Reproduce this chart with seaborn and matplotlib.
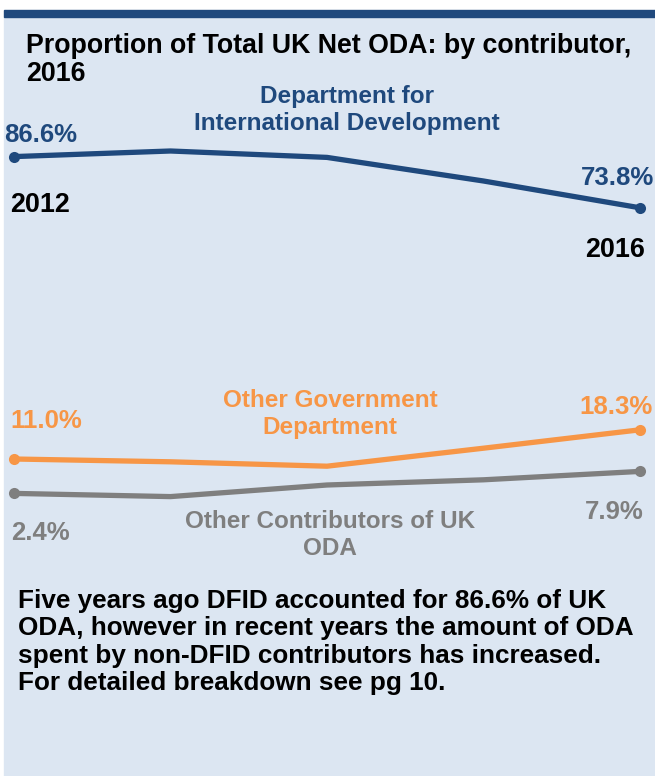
import matplotlib
matplotlib.use("Agg")
import matplotlib.pyplot as plt
import seaborn as sns
import pandas as pd
from matplotlib.patches import Rectangle

# valores (% do ODA liquido total do Reino Unido)
anos = [2012, 2013, 2014, 2015, 2016]
dfid = [86.6, 88.0, 86.4, 80.5, 73.8]
outros_gov = [11.0, 10.3, 9.2, 13.7, 18.3]
outros_contrib = [2.4, 1.6, 4.5, 5.8, 7.9]

nomes = ["Department for\nInternational Development",
         "Other Government\nDepartment",
         "Other Contributors of UK\nODA"]
cores = ["#1f497d", "#f79646", "#7f7f7f"]

dados = pd.DataFrame({
    "ano": anos * 3,
    "valor": dfid + outros_gov + outros_contrib,
    "serie": [nomes[0]] * 5 + [nomes[1]] * 5 + [nomes[2]] * 5,
})

sns.set_theme(style="white")
plt.rcParams["font.family"] = ["Liberation Sans", "DejaVu Sans"]

W, H = 655, 776
fig = plt.figure(figsize=(W / 100, H / 100), dpi=100)
fig.patch.set_facecolor("white")


def px(x, y):
    return x / W, 1 - y / H


# fundo azul claro e barra superior
fig.add_artist(Rectangle(px(4, H), (W - 4) / W, (H - 17) / H,
                         transform=fig.transFigure, color="#dce6f2", zorder=0))
fig.add_artist(Rectangle(px(4, 17), (W - 4) / W, 7 / H,
                         transform=fig.transFigure, color="#1f497d", zorder=0))

# eixo: 2012 -> x=14px, 2016 -> x=640px ; 0% -> y=503px, 100% -> y=103px
ax = fig.add_axes([14 / W, (H - 503) / H, 626 / W, 400 / H])
ax.set_facecolor("none")
for nome, cor in zip(nomes, cores):
    sub = dados[dados["serie"] == nome]
    sns.lineplot(data=sub, x="ano", y="valor", color=cor, linewidth=3.8,
                 marker="o", markersize=8, markeredgewidth=0,
                 markevery=[0, len(sub) - 1], ax=ax, clip_on=False,
                 solid_joinstyle="round", solid_capstyle="round")
ax.set_xlim(anos[0], anos[-1])
ax.set_ylim(0, 100)
ax.axis("off")

# titulo
fig.text(*px(26, 60), "Proportion of Total UK Net ODA: by contributor,\n2016",
         fontsize=19.3, fontweight="bold", color="black", ha="left", va="center",
         linespacing=1.12)

# rotulos das series
serie_kw = dict(fontsize=17.5, fontweight="bold", ha="center", va="center",
                linespacing=1.21)
fig.text(*px(347, 110), nomes[0], color=cores[0], **serie_kw)
fig.text(*px(330, 414), nomes[1], color=cores[1], **serie_kw)
fig.text(*px(330, 535), nomes[2], color=cores[2], **serie_kw)

# valores nas pontas
rot = dict(fontsize=18.5, fontweight="bold", va="center", ha="left")
fig.text(*px(4, 135), f"{dfid[0]:.1f}%", color=cores[0], **rot)
fig.text(*px(581, 178), f"{dfid[-1]:.1f}%", color=cores[0], **rot)
fig.text(*px(10, 421), f"{outros_gov[0]:.1f}%", color=cores[1], **rot)
fig.text(*px(579, 407), f"{outros_gov[-1]:.1f}%", color=cores[1], **rot)
fig.text(*px(11, 533), f"{outros_contrib[0]:.1f}%", color=cores[2], **rot)
fig.text(*px(585, 512), f"{outros_contrib[-1]:.1f}%", color=cores[2], **rot)

# anos
ano_kw = dict(fontsize=19.4, fontweight="bold", color="black", ha="left",
              va="center")
fig.text(*px(10, 205), str(anos[0]), **ano_kw)
fig.text(*px(585, 250), str(anos[-1]), **ano_kw)

# nota de rodape
nota = ("Five years ago DFID accounted for 86.6% of UK\n"
        "ODA, however in recent years the amount of ODA\n"
        "spent by non-DFID contributors has increased.\n"
        "For detailed breakdown see pg 10.")
fig.text(*px(18, 642), nota, fontsize=18.8, fontweight="bold", color="black",
         ha="left", va="center", linespacing=1.17)

plt.savefig("out.png", dpi=100)
